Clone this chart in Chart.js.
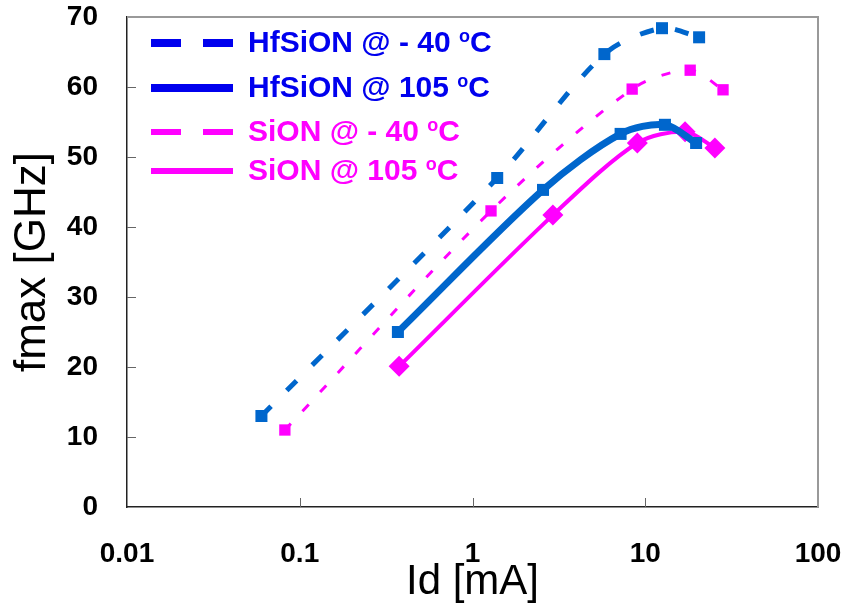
<!DOCTYPE html>
<html>
<head>
<meta charset="utf-8">
<script src="https://cdn.jsdelivr.net/npm/chart.js@4"></script>
<style>
  body { margin: 0; background: #fff; }
  canvas { display: block; }
</style>
</head>
<body>
<canvas id="fmax-chart" width="848" height="609"></canvas>
<script>
// Id [mA] and fmax [GHz]
const idHf40 = [0.06, 1.39, 5.8, 12.5, 20.5];
const fmaxHf40 = [13.0, 47.0, 64.7, 68.4, 67.1];
const idHf105 = [0.37, 2.56, 7.2, 13.0, 19.7];
const fmaxHf105 = [25.0, 45.3, 53.3, 54.6, 52.0];
const idSi40 = [0.082, 1.28, 8.4, 18.2, 28.2];
const fmaxSi40 = [11.0, 42.3, 59.7, 62.4, 59.6];
const idSi105 = [0.376, 2.92, 9.0, 17.0, 25.3];
const fmaxSi105 = [20.1, 41.7, 52.0, 53.6, 51.3];

const seriesNames = ['HfSiON @ - 40 ', 'HfSiON @ 105 ', 'SiON @ - 40 ', 'SiON @ 105 '];
const xTicks = [0.01, 0.1, 1, 10, 100];
const yTicks = [0, 10, 20, 30, 40, 50, 60, 70];

const BLUE = '#0066CC';
const MAGENTA = '#FF00FF';

const toPoints = (xs, ys) => xs.map((x, i) => ({ x: x, y: ys[i] }));

const tickFont = { family: "'Liberation Sans', Arial, sans-serif", size: 28, weight: 'bold' };

// drop the label padding so the plot box keeps its place
const noPad = scale => {
    scale.paddingLeft = 0;
    scale.paddingRight = 0;
    scale.paddingTop = 0;
    scale.paddingBottom = 0;
};

// frame, inward tick marks and the in-plot legend
const framePlugin = {
    id: 'frame',
    beforeDatasetsDraw(chart) {
        const { ctx, chartArea: a, scales } = chart;
        ctx.save();
        ctx.strokeStyle = '#999';
        ctx.lineWidth = 2;
        ctx.beginPath();
        ctx.moveTo(a.left, a.top);
        ctx.lineTo(a.right, a.top);
        ctx.lineTo(a.right, a.bottom);
        ctx.stroke();

        ctx.strokeStyle = '#666';
        ctx.lineWidth = 1;
        yTicks.slice(1, -1).forEach(v => {
            const y = Math.round(scales.y.getPixelForValue(v)) + 0.5;
            ctx.beginPath();
            ctx.moveTo(a.left, y);
            ctx.lineTo(a.left + 9, y);
            ctx.stroke();
        });
        xTicks.slice(1, -1).forEach(v => {
            const x = Math.round(scales.x.getPixelForValue(v)) + 0.5;
            ctx.beginPath();
            ctx.moveTo(x, a.bottom);
            ctx.lineTo(x, a.bottom - 9);
            ctx.stroke();
        });
        ctx.restore();
    },
    afterDraw(chart) {
        const ctx = chart.ctx;
        const items = [
            { color: '#0000EE', width: 8, dash: true, y: 43 },
            { color: '#0000EE', width: 8, dash: false, y: 88 },
            { color: MAGENTA, width: 6, dash: true, y: 132 },
            { color: MAGENTA, width: 6, dash: false, y: 171 }
        ];
        ctx.save();
        items.forEach((it, i) => {
            ctx.strokeStyle = it.color;
            ctx.lineWidth = it.width;
            ctx.beginPath();
            if (it.dash) {
                ctx.moveTo(151, it.y); ctx.lineTo(181, it.y);
                ctx.moveTo(203, it.y); ctx.lineTo(233, it.y);
            } else {
                ctx.moveTo(151, it.y); ctx.lineTo(233, it.y);
            }
            ctx.stroke();

            ctx.fillStyle = it.color;
            ctx.textBaseline = 'middle';
            ctx.font = "bold 30px 'Liberation Sans', Arial, sans-serif";
            let x = 248;
            ctx.fillText(seriesNames[i], x, it.y + 1);
            x += ctx.measureText(seriesNames[i]).width;
            ctx.font = "bold 18px 'Liberation Sans', Arial, sans-serif";
            ctx.fillText('o', x, it.y - 6);
            x += ctx.measureText('o').width;
            ctx.font = "bold 30px 'Liberation Sans', Arial, sans-serif";
            ctx.fillText('C', x, it.y + 1);
        });
        ctx.restore();
    }
};

const ctx = document.getElementById('fmax-chart').getContext('2d');
const fmaxChart = new Chart(ctx, {
    type: 'line',
    data: {
        datasets: [
            {
                label: 'HfSiON @ - 40 oC',
                data: toPoints(idHf40, fmaxHf40),
                borderColor: BLUE,
                backgroundColor: BLUE,
                borderWidth: 5,
                borderDash: [14, 22],
                pointStyle: 'rect',
                pointRadius: 8.5,
                pointBorderWidth: 0,
                tension: 0.3
            },
            {
                label: 'HfSiON @ 105 oC',
                data: toPoints(idHf105, fmaxHf105),
                borderColor: BLUE,
                backgroundColor: BLUE,
                borderWidth: 7,
                pointStyle: 'rect',
                pointRadius: 8.5,
                pointBorderWidth: 0,
                tension: 0.3
            },
            {
                label: 'SiON @ - 40 oC',
                data: toPoints(idSi40, fmaxSi40),
                borderColor: MAGENTA,
                backgroundColor: MAGENTA,
                borderWidth: 3,
                borderDash: [9, 17],
                pointStyle: 'rect',
                pointRadius: 8,
                pointBorderWidth: 0,
                tension: 0.3
            },
            {
                label: 'SiON @ 105 oC',
                data: toPoints(idSi105, fmaxSi105),
                borderColor: MAGENTA,
                backgroundColor: MAGENTA,
                borderWidth: 4,
                pointStyle: 'rectRot',
                pointRadius: 10.5,
                pointBorderWidth: 0,
                tension: 0.3
            }
        ]
    },
    options: {
        responsive: false,
        animation: false,
        devicePixelRatio: 1,
        layout: { padding: { top: 17, right: 30, left: 0, bottom: 0 } },
        plugins: {
            legend: { display: false },
            tooltip: { enabled: false }
        },
        scales: {
            x: {
                type: 'logarithmic',
                min: 0.01,
                max: 100,
                afterBuildTicks: scale => { scale.ticks = xTicks.map(v => ({ value: v })); },
                afterFit: scale => { scale.height = 102; noPad(scale); },
                grid: { display: false, drawTicks: false },
                border: { display: true, color: '#222', width: 1.5 },
                ticks: {
                    padding: 30,
                    color: '#000',
                    font: tickFont,
                    autoSkip: false,
                    maxRotation: 0,
                    callback: v => String(v)
                },
                title: {
                    display: true,
                    text: 'Id [mA]',
                    color: '#000',
                    font: { family: "'Liberation Sans', Arial, sans-serif", size: 42, lineHeight: 1 },
                    padding: { top: 0, bottom: 6 }
                }
            },
            y: {
                min: 0,
                max: 70,
                afterBuildTicks: scale => { scale.ticks = yTicks.map(v => ({ value: v })); },
                afterFit: scale => { scale.width = 127; noPad(scale); },
                grid: { display: false, drawTicks: false },
                border: { display: true, color: '#222', width: 1.5 },
                ticks: {
                    padding: 29,
                    color: '#000',
                    font: tickFont
                },
                title: {
                    display: true,
                    text: 'fmax [GHz]',
                    color: '#000',
                    font: { family: "'Liberation Sans', Arial, sans-serif", size: 44, lineHeight: 1 },
                    padding: { top: 11, bottom: 0 }
                }
            }
        }
    },
    plugins: [framePlugin]
});
</script>
</body>
</html>
